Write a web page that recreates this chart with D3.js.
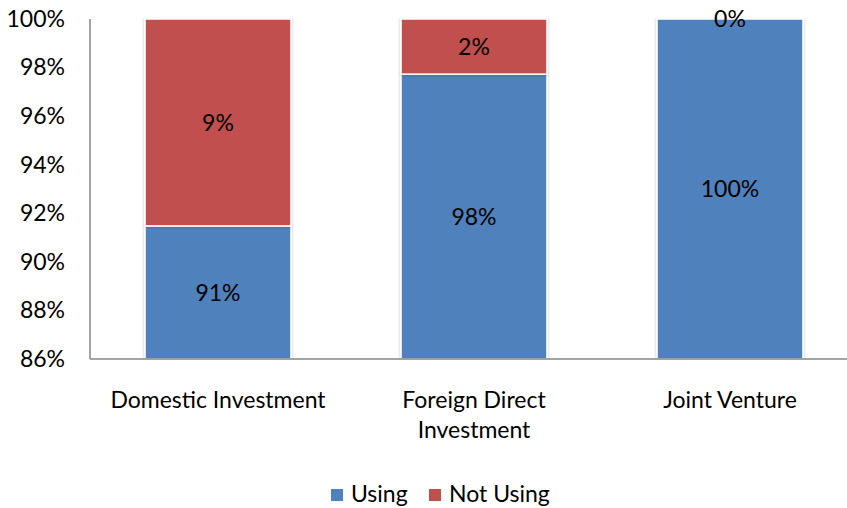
<!DOCTYPE html>
<html>
<head>
<meta charset="utf-8">
<script src="https://cdn.jsdelivr.net/npm/d3@7"></script>
<style>
  html, body { margin: 0; padding: 0; background: #fff; }
  svg { display: block; font-family: Lato, "Open Sans", sans-serif; }
</style>
</head>
<body>
<svg id="chart" width="847" height="508"></svg>
<script>
// Share of firms using the practice, by investment type (percent)
const categories = [["Domestic Investment"], ["Foreign Direct", "Investment"], ["Joint Venture"]];
const using = [91.48, 97.73, 100];
const notUsing = [8.52, 2.27, 0];
const seriesNames = ["Using", "Not Using"];
const yTicks = [86, 88, 90, 92, 94, 96, 98, 100];

const colors = { "Using": "#4F81BD", "Not Using": "#C0504D" };
const fontSize = 23;
const svg = d3.select("#chart");

const margin = { left: 90, top: 19, bottom: 359, right: 858 };

const keys = categories.map(c => c.join(" "));
const x = d3.scaleBand().domain(keys).range([margin.left, margin.right])
  .paddingInner(0.43).paddingOuter(0.215);
const y = d3.scaleLinear().domain([86, 100]).range([margin.bottom, margin.top]);

const defs = svg.append("defs");
const shadow = defs.append("filter").attr("id", "shade")
  .attr("x", "-10%").attr("y", "-10%").attr("width", "120%").attr("height", "120%");
shadow.append("feDropShadow").attr("dx", 0).attr("dy", 0).attr("stdDeviation", 1.6)
  .attr("flood-color", "#000").attr("flood-opacity", 0.25);
defs.append("clipPath").attr("id", "plot").append("rect")
  .attr("x", margin.left).attr("y", margin.top - 1)
  .attr("width", 847 - margin.left).attr("height", margin.bottom - margin.top + 1);

// Build stacked rows
const rows = keys.map((k, i) => ({ key: k, "Using": using[i], "Not Using": notUsing[i] }));
const stack = d3.stack().keys(seriesNames)(rows);

const bars = svg.append("g").attr("clip-path", "url(#plot)");
stack.forEach(layer => {
  bars.append("g").selectAll("rect").data(layer).join("rect")
    .attr("x", d => x(d.data.key))
    .attr("width", x.bandwidth())
    .attr("y", d => y(d[1]))
    .attr("height", d => Math.max(0, y(Math.max(d[0], 86)) - y(d[1])))
    .attr("fill", colors[layer.key])
    .attr("stroke", "#fff")
    .attr("stroke-width", 1.5)
    .attr("filter", "url(#shade)");
});

// Value labels, centred in the visible part of each segment
const fmt = v => Math.round(v) + "%";
stack.forEach(layer => {
  svg.append("g").selectAll("text").data(layer).join("text")
    .attr("x", d => x(d.data.key) + x.bandwidth() / 2)
    .attr("y", d => (y(d[1]) + y(Math.max(d[0], 86))) / 2)
    .attr("dy", "0.35em")
    .attr("text-anchor", "middle")
    .attr("font-size", fontSize)
    .attr("fill", "#000")
    .text(d => fmt(d[1] - d[0]));
});

// Axis lines
svg.append("line").attr("x1", margin.left).attr("x2", margin.left)
  .attr("y1", margin.top).attr("y2", margin.bottom)
  .attr("stroke", "#868686").attr("stroke-width", 1.5);
svg.append("line").attr("x1", margin.left).attr("x2", 847)
  .attr("y1", margin.bottom).attr("y2", margin.bottom)
  .attr("stroke", "#868686").attr("stroke-width", 1.5);

// Y tick labels
const yAxis = d3.axisLeft(y).tickValues(yTicks).tickSize(0).tickPadding(25)
  .tickFormat(d => d + "%");
const yg = svg.append("g").attr("transform", `translate(${margin.left},0)`).call(yAxis);
yg.select(".domain").remove();
yg.selectAll("text").attr("font-size", fontSize).attr("fill", "#000")
  .attr("font-family", "Lato, 'Open Sans', sans-serif");

// Category labels
const xg = svg.append("g");
categories.forEach((lines, i) => {
  const cx = x(keys[i]) + x.bandwidth() / 2;
  const t = xg.append("text")
    .attr("x", cx)
    .attr("y", 408)
    .attr("text-anchor", "middle")
    .attr("font-size", fontSize)
    .attr("fill", "#000");
  lines.forEach((ln, j) => {
    t.append("tspan").attr("x", cx).attr("dy", j === 0 ? 0 : 30).text(ln);
  });
});

// Legend
const legend = svg.append("g");
const legendItems = [{ name: "Using", x: 331 }, { name: "Not Using", x: 429 }];
legendItems.forEach(it => {
  legend.append("rect").attr("x", it.x).attr("y", 489).attr("width", 12).attr("height", 12)
    .attr("fill", colors[it.name]);
  legend.append("text").attr("x", it.x + 20).attr("y", 502)
    .attr("font-size", fontSize).attr("fill", "#000").text(it.name);
});
</script>
</body>
</html>
